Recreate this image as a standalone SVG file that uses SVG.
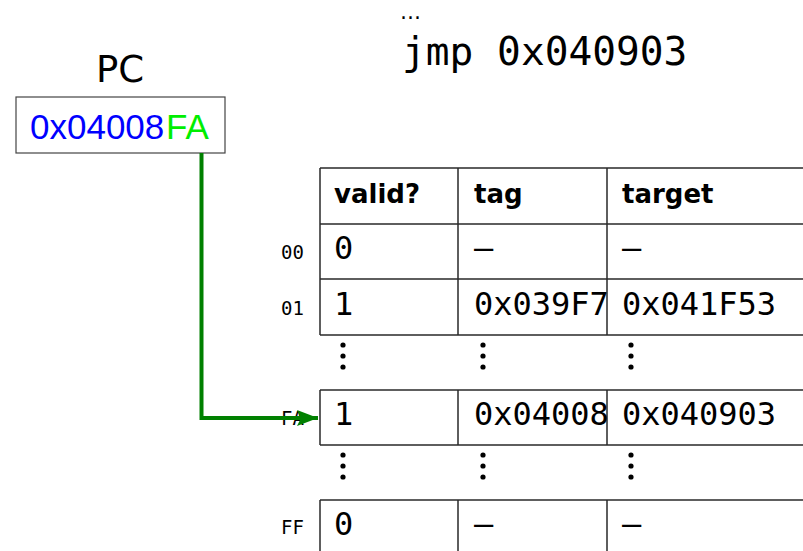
<svg xmlns="http://www.w3.org/2000/svg" width="803" height="551" viewBox="0 0 803 551">
  <style>
    .sans { font-family: "DejaVu Sans", "Liberation Sans", sans-serif; }
    .reg { font-family: "Liberation Sans", "DejaVu Sans", sans-serif; font-size: 35px; }
    .mono { font-family: "DejaVu Sans Mono", "Liberation Mono", monospace; }
    .head { font-family: "DejaVu Sans", "Liberation Sans", sans-serif; font-weight: bold; font-size: 26px; fill: #000; }
    .cell { font-family: "DejaVu Sans Mono", "Liberation Mono", monospace; font-size: 32px; fill: #000; }
    .idx { font-family: "DejaVu Sans Mono", "Liberation Mono", monospace; font-size: 19px; fill: #000; text-anchor: end; }
    .grid { stroke: #2a2a2a; stroke-width: 1.5; fill: none; }
    .wire { stroke: #008000; stroke-width: 4; fill: none; }
  </style>
  <defs>
    <marker id="arrow" markerUnits="userSpaceOnUse" markerWidth="24" markerHeight="18" refX="21" refY="8" orient="auto">
      <path d="M0,0 L21,8 L0,16 L4,8 Z" fill="#008000"/>
    </marker>
    <g id="vdot">
      <circle cx="0" cy="0" r="2.6" fill="#000"/>
      <circle cx="0" cy="11" r="2.6" fill="#000"/>
      <circle cx="0" cy="22" r="2.6" fill="#000"/>
    </g>
  </defs>

  <rect width="803" height="551" fill="#fff"/>

  <!-- code fragment -->
  <g id="code">
    <text class="sans" x="400" y="19" font-size="21" fill="#000">…</text>
    <text class="mono" x="402" y="65" font-size="39.5" fill="#000">jmp 0x040903</text>
  </g>

  <!-- program counter -->
  <g id="pc">
    <text class="sans" x="120" y="82" font-size="37" fill="#000" text-anchor="middle">PC</text>
    <rect x="16" y="97" width="209" height="56" fill="#fff" stroke="#444" stroke-width="1.2"/>
    <text class="reg" x="30" y="139" fill="#0000ff">0x04008</text>
    <text class="reg" x="166" y="139" fill="#00ee00">FA</text>
  </g>

  <!-- branch target buffer -->
  <g id="btb">
    <!-- horizontal rules -->
    <path class="grid" d="M320,168 H810 M320,224 H810 M320,279 H810 M320,335 H810 M320,390 H810 M320,445 H810 M320,500 H810"/>
    <!-- column rules -->
    <path class="grid" d="M320,168 V335 M458,168 V335 M607,168 V335 M320,390 V445 M458,390 V445 M607,390 V445 M320,500 V560 M458,500 V560 M607,500 V560"/>

    <text class="head" x="334" y="203">valid?</text>
    <text class="head" x="474" y="203">tag</text>
    <text class="head" x="622" y="203">target</text>

    <text class="idx" x="304" y="259">00</text>
    <text class="cell" x="334" y="259">0</text>
    <text class="cell" x="474" y="259">—</text>
    <text class="cell" x="622" y="259">—</text>

    <text class="idx" x="304" y="315">01</text>
    <text class="cell" x="334" y="315">1</text>
    <text class="cell" x="474" y="315">0x039F7</text>
    <text class="cell" x="622" y="315">0x041F53</text>

    <use href="#vdot" x="343" y="345"/>
    <use href="#vdot" x="483" y="345"/>
    <use href="#vdot" x="631" y="345"/>

    <text class="idx" x="304" y="425">FA</text>
    <text class="cell" x="334" y="425">1</text>
    <text class="cell" x="474" y="425">0x04008</text>
    <text class="cell" x="622" y="425">0x040903</text>

    <use href="#vdot" x="343" y="455"/>
    <use href="#vdot" x="483" y="455"/>
    <use href="#vdot" x="631" y="455"/>

    <text class="idx" x="304" y="534">FF</text>
    <text class="cell" x="334" y="535">0</text>
    <text class="cell" x="474" y="535">—</text>
    <text class="cell" x="622" y="535">—</text>
  </g>

  <!-- index bits select the row -->
  <g id="connectors">
    <path class="wire" d="M201.5,153 V418 H318" marker-end="url(#arrow)"/>
  </g>
</svg>
